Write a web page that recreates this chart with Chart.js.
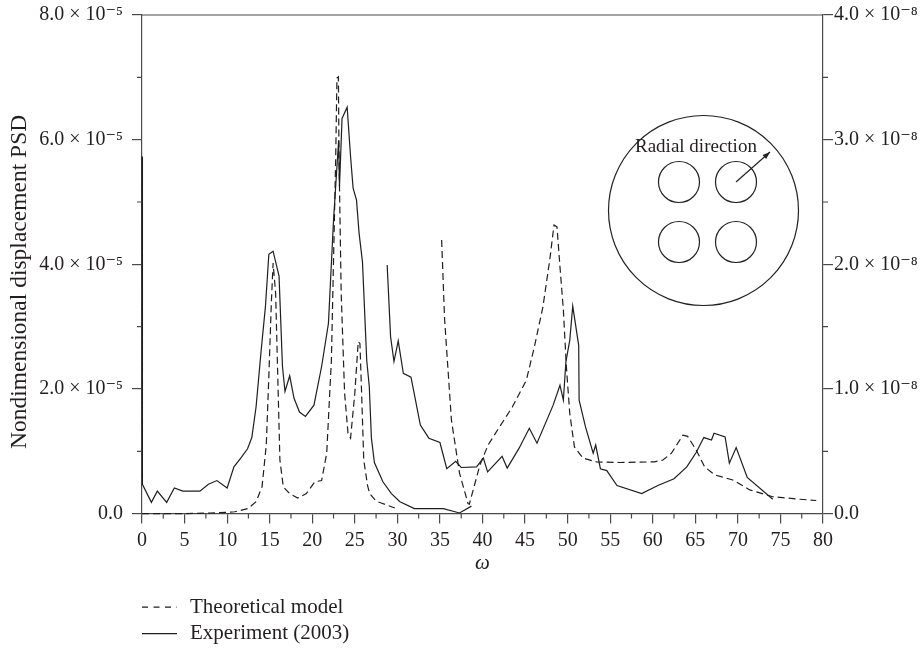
<!DOCTYPE html>
<html>
<head>
<meta charset="utf-8">
<script src="https://cdn.jsdelivr.net/npm/chart.js@4.4.1/dist/chart.umd.min.js"></script>
<style>
  html, body { margin: 0; padding: 0; background: #ffffff; }
  canvas { display: block; }
</style>
</head>
<body>
<canvas id="c" width="923" height="650"></canvas>
<script>
// ---------------- data ----------------
// Theoretical model (dashed, right axis). null = break in the curve.
const theoryOmega = [0, 5, 8, 10, 10.9, 12.45, 13.4, 14.1, 14.6, 14.9, 15.2, 15.4, 15.7, 16.0, 16.2, 16.6, 17.35, 18.3, 19.3, 20.3, 21.1, 21.7, 22.25, 22.5, 22.75, 22.9, 23.07, 23.15, 23.4, 23.8, 24.2, 24.5, 25.0, 25.4, 25.6, 25.8, 26.05, 26.5, 26.75, 27.5, 28.1, 29.7,
  32,
  35.2, 35.55, 36.35, 37.3, 38.3, 38.45, 39.7, 40.65, 42.0, 43.5, 45.15, 46.1, 47.1, 47.9, 48.4, 48.75, 49.1, 49.5, 49.85, 50.25, 50.8, 51.8, 53.4, 56.1, 60.2, 61.2, 62.2, 63.55, 64.1, 65.1, 66.1, 67.3, 69.4, 71.4, 74.1, 77.3, 79.2];
const theoryPSD = [0, 0, 0.005e-8, 0.01e-8, 0.015e-8, 0.04e-8, 0.095e-8, 0.215e-8, 0.55e-8, 1.1e-8, 1.7e-8, 2.01e-8, 1.765e-8, 0.965e-8, 0.43e-8, 0.215e-8, 0.16e-8, 0.125e-8, 0.16e-8, 0.255e-8, 0.265e-8, 0.485e-8, 1.23e-8, 2.035e-8, 2.835e-8, 3.495e-8, 3.505e-8, 2.835e-8, 1.765e-8, 0.965e-8, 0.645e-8, 0.605e-8, 0.965e-8, 1.38e-8, 1.365e-8, 0.965e-8, 0.43e-8, 0.225e-8, 0.16e-8, 0.10e-8, 0.085e-8, 0.045e-8,
  null,
  2.195e-8, 1.555e-8, 0.75e-8, 0.325e-8, 0.08e-8, 0.075e-8, 0.39e-8, 0.55e-8, 0.695e-8, 0.855e-8, 1.07e-8, 1.34e-8, 1.66e-8, 2.035e-8, 2.315e-8, 2.30e-8, 1.98e-8, 1.635e-8, 1.18e-8, 0.805e-8, 0.535e-8, 0.445e-8, 0.415e-8, 0.41e-8, 0.415e-8, 0.43e-8, 0.485e-8, 0.63e-8, 0.62e-8, 0.51e-8, 0.375e-8, 0.31e-8, 0.27e-8, 0.19e-8, 0.135e-8, 0.115e-8, 0.105e-8];

// Experiment (2003) (solid, left axis). null = break in the curve.
const expOmega = [0, 0.05, 1.1, 1.8, 2.9, 3.8, 4.8, 6.8, 7.8, 8.8, 10.0, 10.8, 11.6, 12.4, 12.9, 13.4, 14.0, 14.5, 14.9, 15.4, 16.1, 16.5, 16.8, 17.35, 17.86, 18.5, 19.2, 20.2, 21.1, 21.9, 22.5, 23.1, 23.2, 23.5, 24.1, 24.5, 24.8, 25.2, 25.5, 25.9, 26.4, 26.7, 26.95, 27.3, 28.3, 29.3, 30.3, 32.0, 35.4, 37.3, 38.7,
  38.75,
  28.8, 29.2, 29.6, 30.1, 30.7, 31.6, 32.7, 33.7, 35.0, 35.8, 36.85, 37.5, 39.3, 40.1, 40.6, 42.3, 42.9, 44.3, 45.5, 46.4, 48.3, 49.1, 49.5, 49.8, 50.25, 50.6, 51.3, 51.35, 52.1, 53.0, 53.3, 53.85, 54.6, 55.8, 58.7, 60.6, 62.5, 64.0, 65.1, 66.0, 66.9, 67.2, 68.5, 69.0, 69.8, 71.1, 74.1];
const expPSD = [5.73e-5, 0.47e-5, 0.18e-5, 0.36e-5, 0.18e-5, 0.41e-5, 0.36e-5, 0.36e-5, 0.47e-5, 0.53e-5, 0.41e-5, 0.75e-5, 0.89e-5, 1.04e-5, 1.22e-5, 1.71e-5, 2.62e-5, 3.32e-5, 4.16e-5, 4.21e-5, 3.81e-5, 2.36e-5, 1.96e-5, 2.21e-5, 1.85e-5, 1.63e-5, 1.56e-5, 1.74e-5, 2.36e-5, 3.05e-5, 4.71e-5, 5.99e-5, 5.25e-5, 6.34e-5, 6.52e-5, 5.73e-5, 5.22e-5, 5.03e-5, 4.50e-5, 4.04e-5, 2.46e-5, 2.04e-5, 1.21e-5, 0.82e-5, 0.51e-5, 0.32e-5, 0.19e-5, 0.08e-5, 0.08e-5, 0.01e-5, 0.12e-5,
  null,
  3.99e-5, 2.84e-5, 2.44e-5, 2.77e-5, 2.25e-5, 2.19e-5, 1.42e-5, 1.21e-5, 1.14e-5, 0.72e-5, 0.84e-5, 0.74e-5, 0.75e-5, 0.89e-5, 0.67e-5, 0.92e-5, 0.73e-5, 1.05e-5, 1.37e-5, 1.13e-5, 1.74e-5, 2.06e-5, 1.82e-5, 2.44e-5, 2.78e-5, 3.33e-5, 2.70e-5, 1.82e-5, 1.39e-5, 0.97e-5, 1.10e-5, 0.72e-5, 0.69e-5, 0.45e-5, 0.32e-5, 0.45e-5, 0.56e-5, 0.75e-5, 0.98e-5, 1.22e-5, 1.18e-5, 1.29e-5, 1.23e-5, 0.81e-5, 1.06e-5, 0.58e-5, 0.23e-5];

// tick values and labels
const xTickValues = [0, 5, 10, 15, 20, 25, 30, 35, 40, 45, 50, 55, 60, 65, 70, 75, 80];
const xTickLabels = ['0', '5', '10', '15', '20', '25', '30', '35', '40', '45', '50', '55', '60', '65', '70', '75', '80'];
const yLeftTickValues = [0, 2e-5, 4e-5, 6e-5, 8e-5];
const yLeftTickLabels = ['0.0', '2.0 × 10⁻⁵', '4.0 × 10⁻⁵', '6.0 × 10⁻⁵', '8.0 × 10⁻⁵'];
const yRightTickValues = [0, 1e-8, 2e-8, 3e-8, 4e-8];
const yRightTickLabels = ['0.0', '1.0 × 10⁻⁸', '2.0 × 10⁻⁸', '3.0 × 10⁻⁸', '4.0 × 10⁻⁸'];

const seriesNames = ['Theoretical model', 'Experiment (2003)'];
const xTitle = 'ω';
const yTitle = 'Nondimensional displacement PSD';
const insetLabel = 'Radial direction';

// ---------------- styling ----------------
const FONT = "'Liberation Serif', 'DejaVu Serif', serif";
const TEXT = '#231f20';
const AXIS = '#4a4a4a';
const LINE = '#1e1e1e';
const DASH = [7, 4];

const toPoints = (xs, ys) => xs.map((x, i) => ({ x: x, y: ys[i] }));

const setTicks = (values) => (scale) => { scale.ticks = values.map(v => ({ value: v })); };
const fixWidth = (w) => (scale) => { scale.width = w; scale.paddingTop = 0; scale.paddingBottom = 0; };

const decorPlugin = {
  id: 'decor',
  afterDraw(chart) {
    const { ctx, chartArea: a, scales } = chart;
    ctx.save();
    ctx.strokeStyle = AXIS;
    ctx.lineWidth = 1.2;
    // top frame line
    ctx.beginPath();
    ctx.moveTo(a.left, a.top);
    ctx.lineTo(a.right, a.top);
    ctx.stroke();
    // minor ticks, midway between major ticks
    ctx.beginPath();
    for (let i = 0; i < xTickValues.length - 1; i++) {
      const px = scales.x.getPixelForValue((xTickValues[i] + xTickValues[i + 1]) / 2);
      ctx.moveTo(px, a.bottom); ctx.lineTo(px, a.bottom + 5);
    }
    for (let i = 0; i < yLeftTickValues.length - 1; i++) {
      const py = scales.y.getPixelForValue((yLeftTickValues[i] + yLeftTickValues[i + 1]) / 2);
      ctx.moveTo(a.left - 5, py); ctx.lineTo(a.left, py);
    }
    for (let i = 0; i < yRightTickValues.length - 1; i++) {
      const py = scales.y2.getPixelForValue((yRightTickValues[i] + yRightTickValues[i + 1]) / 2);
      ctx.moveTo(a.right, py); ctx.lineTo(a.right + 5, py);
    }
    ctx.stroke();

    // inset diagram (cross-section with four tubes)
    const cx = a.right - 119.5, cy = a.top + 195.5;
    ctx.strokeStyle = '#222';
    ctx.lineWidth = 1.2;
    ctx.beginPath(); ctx.arc(cx, cy, 95, 0, Math.PI * 2); ctx.stroke();
    const tubes = [[-24.5, -28.5], [32.5, -28.5], [-24.5, 31.5], [32.5, 31.5]];
    tubes.forEach(([dx, dy]) => {
      ctx.beginPath(); ctx.arc(cx + dx, cy + dy, 20.5, 0, Math.PI * 2); ctx.stroke();
    });
    // arrow
    const x0 = cx + 32.5, y0 = cy - 28.5, x1 = cx + 66.5, y1 = cy - 58.5;
    ctx.beginPath(); ctx.moveTo(x0, y0); ctx.lineTo(x1, y1); ctx.stroke();
    const ang = Math.atan2(y1 - y0, x1 - x0);
    ctx.fillStyle = '#222';
    ctx.beginPath();
    ctx.moveTo(x1, y1);
    ctx.lineTo(x1 - 8 * Math.cos(ang - 0.35), y1 - 8 * Math.sin(ang - 0.35));
    ctx.lineTo(x1 - 8 * Math.cos(ang + 0.35), y1 - 8 * Math.sin(ang + 0.35));
    ctx.closePath(); ctx.fill();
    ctx.fillStyle = TEXT;
    ctx.font = '19px ' + FONT;
    ctx.textAlign = 'left';
    ctx.textBaseline = 'alphabetic';
    ctx.fillText(insetLabel, cx - 68.5, cy - 59);

    // legend (stacked, below the axis title)
    const lx = a.left, ly1 = a.bottom + 93.5, ly2 = a.bottom + 120;
    ctx.strokeStyle = LINE;
    ctx.lineWidth = 1.2;
    ctx.setLineDash([6, 5.5]);
    ctx.beginPath(); ctx.moveTo(lx, ly1); ctx.lineTo(lx + 35, ly1); ctx.stroke();
    ctx.setLineDash([]);
    ctx.beginPath(); ctx.moveTo(lx, ly2); ctx.lineTo(lx + 35, ly2); ctx.stroke();
    ctx.font = '21px ' + FONT;
    ctx.textBaseline = 'middle';
    ctx.fillText(seriesNames[0], lx + 48, ly1);
    ctx.fillText(seriesNames[1], lx + 48, ly2);
    ctx.restore();
  }
};

new Chart(document.getElementById('c'), {
  type: 'line',
  data: {
    datasets: [
      {
        label: seriesNames[0],
        data: toPoints(theoryOmega, theoryPSD),
        yAxisID: 'y2',
        borderColor: LINE,
        borderWidth: 1.2,
        borderDash: DASH,
        pointRadius: 0,
        tension: 0,
        spanGaps: false,
        fill: false
      },
      {
        label: seriesNames[1],
        data: toPoints(expOmega, expPSD),
        yAxisID: 'y',
        borderColor: LINE,
        borderWidth: 1.2,
        pointRadius: 0,
        tension: 0,
        spanGaps: false,
        fill: false
      }
    ]
  },
  options: {
    responsive: false,
    animation: false,
    devicePixelRatio: 1,
    clip: false,
    layout: { padding: { top: 15, bottom: 74.4, left: 0, right: 0 } },
    plugins: {
      legend: { display: false },
      tooltip: { enabled: false }
    },
    events: [],
    scales: {
      x: {
        type: 'linear',
        position: 'bottom',
        min: 0, max: 80,
        afterBuildTicks: setTicks(xTickValues),
        afterFit: (s) => { s.height = 62; },
        ticks: {
          autoSkip: false, maxRotation: 0, padding: 5,
          color: TEXT, font: { family: FONT, size: 20 },
          callback: (v) => xTickLabels[xTickValues.indexOf(v)]
        },
        grid: { drawOnChartArea: false, drawTicks: true, tickLength: 10, color: AXIS, lineWidth: 1.2 },
        border: { display: true, color: AXIS, width: 1.2 },
        title: { display: true, text: xTitle, color: TEXT, padding: { top: 0, bottom: 0 },
                 font: { family: FONT, size: 21, style: 'italic' } }
      },
      y: {
        type: 'linear',
        position: 'left',
        min: 0, max: 8e-5,
        afterBuildTicks: setTicks(yLeftTickValues),
        afterFit: fixWidth(142),
        ticks: {
          padding: 9, color: TEXT, font: { family: FONT, size: 20 },
          callback: (v) => yLeftTickLabels[yLeftTickValues.indexOf(v)]
        },
        grid: { drawOnChartArea: false, drawTicks: true, tickLength: 10, color: AXIS, lineWidth: 1.2 },
        border: { display: true, color: AXIS, width: 1.2 },
        title: { display: true, text: yTitle + '\u00a0\u00a0\u00a0\u00a0\u00a0\u00a0', color: TEXT, padding: { top: 6, bottom: 0 },
                 font: { family: FONT, size: 23.5 } }
      },
      y2: {
        type: 'linear',
        position: 'right',
        min: 0, max: 4e-8,
        afterBuildTicks: setTicks(yRightTickValues),
        afterFit: fixWidth(100),
        ticks: {
          padding: 1, color: TEXT, font: { family: FONT, size: 20 },
          callback: (v) => yRightTickLabels[yRightTickValues.indexOf(v)]
        },
        grid: { drawOnChartArea: false, drawTicks: true, tickLength: 10, color: AXIS, lineWidth: 1.2 },
        border: { display: true, color: AXIS, width: 1.2 }
      }
    }
  },
  plugins: [decorPlugin]
});
</script>
</body>
</html>
